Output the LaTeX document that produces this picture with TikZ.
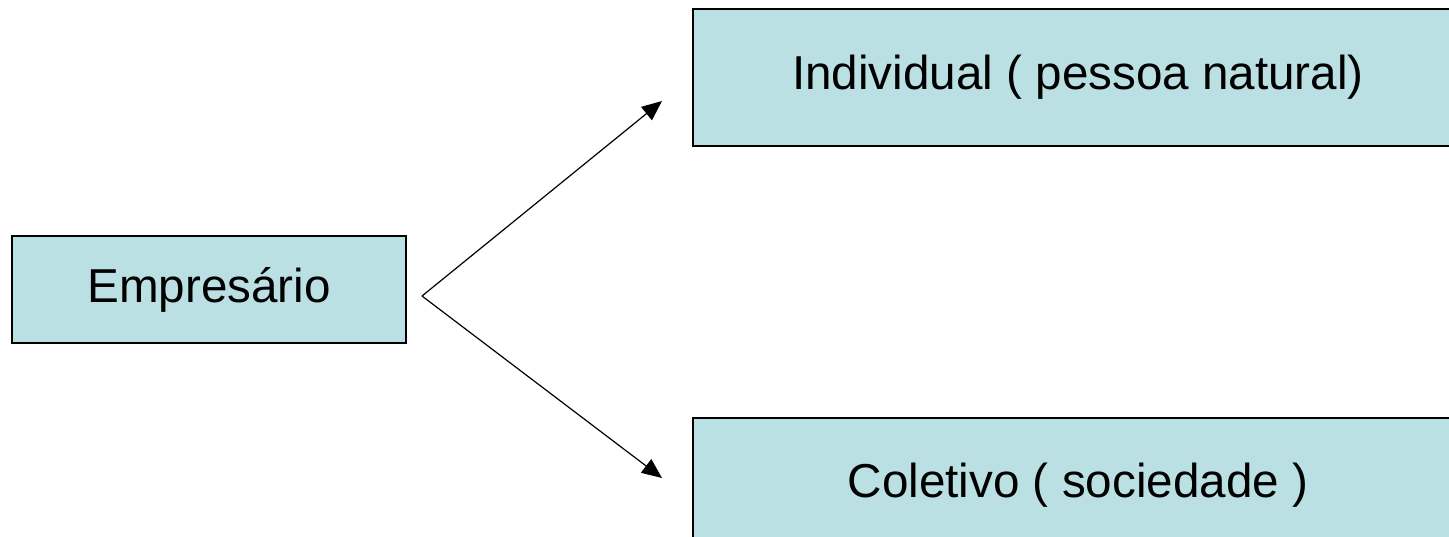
\documentclass[tikz,border=0pt]{standalone}
\usepackage{fontspec}
\setmainfont{Liberation Sans}
\usetikzlibrary{arrows.meta}
\definecolor{boxfill}{HTML}{BBE0E3}
\begin{document}
\begin{tikzpicture}[x=1pt,y=-1pt,
  box/.style={draw=black, line width=1.5pt, fill=boxfill, inner sep=0pt, font=\fontsize{47.6}{57}\selectfont},
  conn/.style={line width=1.2pt, -{Triangle[length=20pt,width=17pt]}}]
\useasboundingbox (0,0) rectangle (1449,536);
\clip (0,0) rectangle (1449,536);
\node[box, minimum width=394pt, minimum height=107pt] (emp) at (209,289.5) {Empresário};
\node[box, minimum width=770pt, minimum height=137pt] (ind) at (1078,77.5) {Individual ( pessoa natural)};
\node[box, minimum width=770pt, minimum height=134pt] (col) at (1078,485) {Coletivo ( sociedade )};
\coordinate (fork) at (422,296);
\coordinate (tipA) at (662,101);
\coordinate (tipB) at (662,478);
\draw[conn] (fork) -- (tipA);
\draw[conn] (fork) -- (tipB);
\end{tikzpicture}
\end{document}
